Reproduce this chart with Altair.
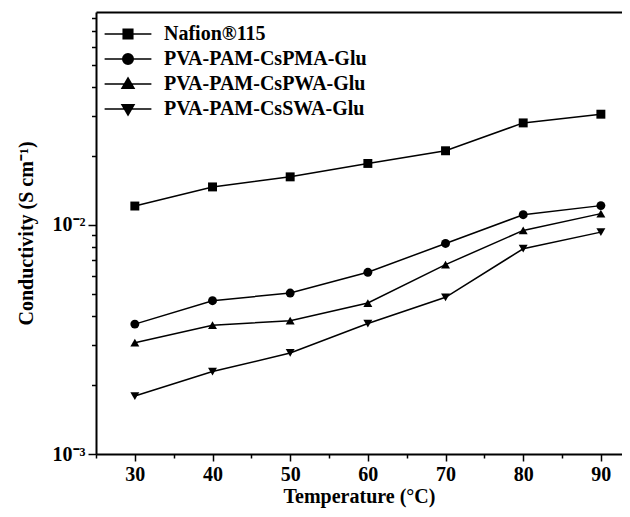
import altair as alt
import pandas as pd

temps = [30, 40, 50, 60, 70, 80, 90]
series = ["Nafion®115", "PVA-PAM-CsPMA-Glu", "PVA-PAM-CsPWA-Glu", "PVA-PAM-CsSWA-Glu"]
nafion = [0.01209, 0.01465, 0.01621, 0.01855, 0.02107, 0.02788, 0.03043]
cspma = [0.00369, 0.00467, 0.00504, 0.00621, 0.00830, 0.01108, 0.01214]
cspwa = [0.00306, 0.00365, 0.00382, 0.00456, 0.00671, 0.00946, 0.01120]
csswa = [0.00179, 0.00229, 0.00276, 0.00371, 0.00483, 0.00787, 0.00930]

x_major = [30, 40, 50, 60, 70, 80, 90]
x_minor = [25, 35, 45, 55, 65, 75, 85]
y_major = [0.001, 0.01]
y_minor = [0.002, 0.003, 0.004, 0.005, 0.006, 0.007, 0.008, 0.009,
           0.02, 0.03, 0.04, 0.05, 0.06, 0.07, 0.08]

rows = []
for name, vals in zip(series, [nafion, cspma, cspwa, csswa]):
    for t, v in zip(temps, vals):
        rows.append({"series": name, "T": t, "sigma": v})
df = pd.DataFrame(rows)

FONT = "Liberation Serif"
xscale = alt.Scale(domain=[25, 92.72], nice=False, zero=False)
yscale = alt.Scale(type="log", domain=[0.001, 0.085], nice=False)

marker_shapes = ["square", "circle", "triangle-up", "triangle-down"]

# legend symbols: a line segment plus a marker "filled" by nested outlines
SCALES = [1.0, 0.72, 0.44, 0.16]
LINE = "M-3.9,0H3.9"


def sq(k):
    s = 0.8 * k
    return f"M{-s:.3f},{-s:.3f}H{s:.3f}V{s:.3f}H{-s:.3f}Z"


def ci(k):
    r = 0.88 * k
    return f"M{-r:.3f},0A{r:.3f},{r:.3f} 0 1,0 {r:.3f},0A{r:.3f},{r:.3f} 0 1,0 {-r:.3f},0Z"


def tri(k, d):
    a, b, c = 1.0 * k, 0.7 * k, 1.0 * k
    return f"M0,{-d * a:.3f}L{c:.3f},{d * b:.3f}H{-c:.3f}Z"


legend_paths = [
    LINE + "".join(sq(k) for k in SCALES),
    LINE + "".join(ci(k) for k in SCALES),
    LINE + "".join(tri(k, 1) for k in SCALES),
    LINE + "".join(tri(k, -1) for k in SCALES),
]

lines = alt.Chart(df).mark_line(color="black", strokeWidth=1.5).encode(
    x=alt.X("T:Q", scale=xscale,
            axis=alt.Axis(values=x_major, tickSize=7, labelPadding=3,
                          title="Temperature (°C)", titlePadding=2,
                          grid=False, orient="bottom")),
    y=alt.Y("sigma:Q", scale=yscale,
            axis=alt.Axis(values=y_major, tickSize=8, labelPadding=3,
                          labelExpr="datum.value < 0.005 ? '10⁻³' : '10⁻²'",
                          title="Conductivity (S cm⁻¹)", titlePadding=16,
                          grid=False, orient="left")),
    detail="series:N",
)

points = alt.Chart(df).mark_point(filled=True, size=80, color="black", opacity=1).encode(
    x=alt.X("T:Q", scale=xscale,
            axis=alt.Axis(values=x_minor, tickSize=4, labels=False, domain=False,
                          title=None, grid=False, orient="bottom")),
    y=alt.Y("sigma:Q", scale=yscale,
            axis=alt.Axis(values=y_minor, tickSize=4.5, labels=False, domain=False,
                          title=None, grid=False, orient="left")),
    shape=alt.Shape("series:N", scale=alt.Scale(domain=series, range=marker_shapes),
                    legend=None),
)

legend_layer = alt.Chart(df).mark_point(color="black", strokeWidth=1.5, opacity=0).encode(
    x=alt.X("T:Q", scale=xscale,
            axis=alt.Axis(orient="top", labels=False, ticks=False, title=None,
                          grid=False, domain=True)),
    y=alt.Y("sigma:Q", scale=yscale, axis=None),
    shape=alt.Shape("series:N", scale=alt.Scale(domain=series, range=legend_paths),
                    legend=alt.Legend(title=None, orient="none", legendX=22, legendY=12,
                                      symbolSize=144, symbolOpacity=1,
                                      symbolStrokeColor="black",
                                      symbolStrokeWidth=1.5, labelOffset=26,
                                      labelFont=FONT, labelFontSize=20,
                                      labelFontWeight="bold", labelColor="black",
                                      rowPadding=5, padding=0, labelLimit=400)),
)

chart = alt.layer(lines, points, legend_layer).resolve_scale(
    shape="independent"
).resolve_axis(
    x="independent", y="independent"
).resolve_legend(
    shape="independent"
).properties(
    width=526, height=442,
    autosize=alt.AutoSizeParams(type="none"),
    padding={"left": 88, "top": 4, "right": 0, "bottom": 57},
).configure_view(
    stroke=None
).configure_axis(
    labelFont=FONT, labelFontSize=20, labelFontWeight="bold", labelColor="black",
    titleFont=FONT, titleFontSize=20, titleFontWeight="bold", titleColor="black",
    domainColor="black", domainWidth=2, tickColor="black", tickWidth=1.5,
)

chart.save("out.html", embed_options={"renderer": "svg", "actions": False})
